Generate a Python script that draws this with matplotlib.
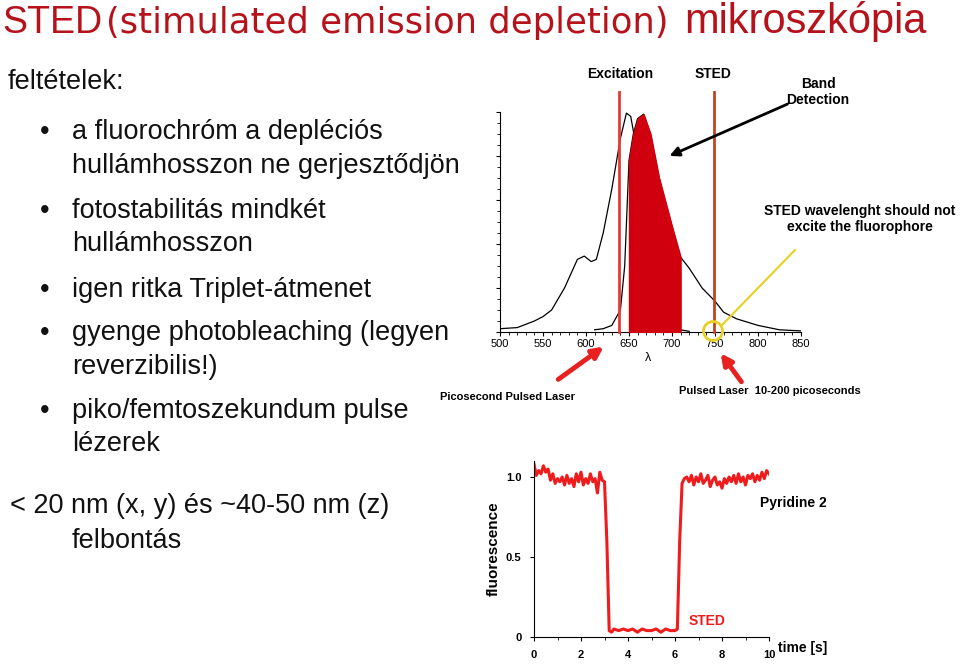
import matplotlib
matplotlib.use("Agg")
import matplotlib.pyplot as plt
import numpy as np
from matplotlib.patches import Circle

plt.rcParams['font.family'] = 'Liberation Sans'

# Spectrum data
abs_wl = [500, 520, 540, 550, 560, 575, 590, 598, 606, 612, 620, 630, 640, 647, 652, 658, 665, 672, 680, 690, 700, 710, 720]
abs_val = [0.015, 0.02, 0.05, 0.07, 0.1, 0.2, 0.33, 0.345, 0.32, 0.33, 0.45, 0.65, 0.88, 0.995, 0.98, 0.85, 0.6, 0.35, 0.17, 0.07, 0.03, 0.01, 0.003]
em_wl = [610, 620, 630, 640, 645, 650, 655, 660, 667, 675, 685, 700, 710, 720, 735, 750, 760, 775, 800, 825, 850]
em_val = [0.01, 0.015, 0.03, 0.1, 0.3, 0.78, 0.9, 0.97, 0.99, 0.9, 0.7, 0.48, 0.34, 0.29, 0.2, 0.14, 0.09, 0.06, 0.03, 0.01, 0.005]
band = (650, 710)
excitation_wl = 638
sted_wl = 749
x_ticks = [500, 550, 600, 650, 700, 750, 800, 850]

# Fluorescence trace (time in s, fluorescence)
t_vals = [0.0, 0.1, 0.2, 0.3, 0.4, 0.5, 0.6, 0.7, 0.8, 0.9, 1.0, 1.1, 1.2, 1.3, 1.4, 1.5, 1.6, 1.7, 1.8, 1.9,
          2.0, 2.1, 2.2, 2.3, 2.4, 2.5, 2.6, 2.7, 2.8, 2.9, 3.0, 3.1, 3.2, 3.3, 3.4, 3.6, 3.8, 4.0, 4.2, 4.4,
          4.6, 4.8, 5.0, 5.2, 5.4, 5.6, 5.8, 6.0, 6.1, 6.2, 6.3, 6.4, 6.5, 6.6, 6.7, 6.8, 6.9, 7.0, 7.1, 7.2,
          7.3, 7.4, 7.5, 7.6, 7.7, 7.8, 7.9, 8.0, 8.1, 8.2, 8.3, 8.4, 8.5, 8.6, 8.7, 8.8, 8.9, 9.0, 9.1, 9.2,
          9.3, 9.4, 9.5, 9.6, 9.7, 9.8, 9.9, 10.0]
f_vals = [1.08, 1.01, 1.04, 1.02, 1.07, 1.03, 1.05, 0.98, 1.02, 0.96, 0.99, 0.97, 1.00, 0.95, 1.01, 0.96, 0.99, 0.94, 1.02, 0.97,
          1.03, 0.95, 0.99, 0.96, 1.02, 0.97, 0.99, 0.90, 1.03, 0.98, 0.97, 0.60, 0.04, 0.03, 0.05, 0.04, 0.05, 0.04, 0.05, 0.03,
          0.05, 0.04, 0.04, 0.05, 0.03, 0.05, 0.04, 0.04, 0.05, 0.60, 0.96, 0.99, 1.00, 0.97, 1.01, 0.95, 1.00, 0.97, 1.02, 0.96,
          0.98, 1.01, 0.94, 0.98, 1.00, 0.95, 0.97, 0.93, 0.99, 0.96, 1.00, 0.97, 1.01, 0.96, 1.02, 0.97, 1.00, 0.95, 1.01, 0.99,
          1.02, 0.97, 1.01, 0.98, 1.03, 0.99, 1.04, 1.02]
y_ticks = [0, 0.5, 1.0]
y_ticklabels = ['0', '0.5', '1.0']
t_ticks = [0, 2, 4, 6, 8, 10]

fig = plt.figure(figsize=(9.6, 6.66), dpi=100)

# Spectrum axes
ax1 = fig.add_axes([500/960, 1-332/666, 301/960, 220/666])
ax1.plot(abs_wl, abs_val, color='black', lw=0.9)
ew = np.array(em_wl); ev = np.array(em_val)
ax1.plot(ew, ev, color='black', lw=0.9)
xs = np.linspace(band[0], band[1], 100)
ax1.fill_between(xs, 0, np.interp(xs, ew, ev), color='#d0000f', zorder=3)
ax1.plot([excitation_wl, excitation_wl], [0, 1.09], color='#e83838', lw=2, clip_on=False, zorder=4)
ax1.plot([sted_wl, sted_wl], [0, 1.09], color='#c04420', lw=2, clip_on=False, zorder=4)
ax1.set_xlim(500, 850); ax1.set_ylim(0, 1.0)
ax1.set_xticks(x_ticks)
ax1.set_xticks(np.arange(500, 851, 10), minor=True)
ax1.set_yticks(np.arange(0, 1.01, 0.2)); ax1.set_yticklabels([])
ax1.set_yticks(np.arange(0, 1.01, 0.05), minor=True)
ax1.tick_params(labelsize=8, length=3, direction='out', pad=2)
ax1.tick_params(which='minor', length=2)
for s in ['top', 'right']:
    ax1.spines[s].set_visible(False)
ax1.patch.set_alpha(0)

# Fluorescence axes
ax2 = fig.add_axes([534/960, 1-637/666, 235/960, 176/666])
ax2.plot(t_vals, f_vals, color='#ee1c1c', lw=2.2)
ax2.set_xlim(0, 10); ax2.set_ylim(0, 1.1)
ax2.set_xticks(t_ticks)
ax2.set_xticks(np.arange(0, 10.01, 1), minor=True)
ax2.set_yticks(y_ticks); ax2.set_yticklabels(y_ticklabels)
ax2.tick_params(labelsize=8, length=3, pad=6)
for lab in ax2.get_xticklabels() + ax2.get_yticklabels():
    lab.set_fontweight('bold')
ax2.set_ylabel('fluorescence', fontsize=11, fontweight='bold', labelpad=4)
for s in ['top', 'right']:
    ax2.spines[s].set_visible(False)

# Overlay in pixel coordinates
ov = fig.add_axes([0, 0, 1, 1])
ov.set_xlim(0, 960); ov.set_ylim(666, 0); ov.axis('off'); ov.patch.set_alpha(0)

red = '#b5121b'
ov.text(2, 33, 'STED', fontsize=27, color=red, va='baseline')
ov.text(106, 33, '(stimulated emission depletion)', fontsize=25.5, color=red, va='baseline',
        family='DejaVu Sans')
ov.text(684, 33, 'mikroszkópia', fontsize=30, color=red, va='baseline')

tc = '#111111'; fs = 19.5
ov.text(8, 89, 'feltételek:', fontsize=fs, color=tc, va='baseline')
lines = [(139, 'a fluorochróm a depléciós', True), (173, 'hullámhosszon ne gerjesztődjön', False),
         (218, 'fotostabilitás mindkét', True), (251, 'hullámhosszon', False),
         (297, 'igen ritka Triplet-átmenet', True),
         (340, 'gyenge photobleaching (legyen', True), (374, 'reverzibilis!)', False),
         (418, 'piko/femtoszekundum pulse', True), (451, 'lézerek', False)]
for y, s, b in lines:
    if b:
        ov.text(40, y, '•', fontsize=fs, color=tc, va='baseline')
    ov.text(72, y, s, fontsize=fs, color=tc, va='baseline')
ov.text(10, 513, '< 20 nm (x, y) és ~40-50 nm (z)', fontsize=fs, color=tc, va='baseline')
ov.text(72, 548, 'felbontás', fontsize=fs, color=tc, va='baseline')

bf = dict(fontweight='bold', fontsize=10, color='black', ha='center', va='center')
ov.text(620, 74, 'Excitation', **bf)
ov.text(713, 74, 'STED', **bf)
ov.text(818, 92, 'Band\nDetection', linespacing=1.15, **bf)
ov.annotate('', xy=(667, 157), xytext=(790, 103),
            arrowprops=dict(arrowstyle='-|>', color='black', lw=2, mutation_scale=14))
ov.text(860, 219, 'STED wavelenght should not\nexcite the fluorophore', linespacing=1.25, **bf)
ov.plot([795, 722], [250, 325], color='#e8d020', lw=1.5)
ov.add_patch(Circle((713, 331), 9.5, fill=False, ec='#e8d020', lw=2))
ov.annotate('', xy=(606, 345), xytext=(556, 381),
            arrowprops=dict(arrowstyle='-|>', color='#e82020', lw=3.5, mutation_scale=16))
ov.annotate('', xy=(719, 351), xytext=(743, 384),
            arrowprops=dict(arrowstyle='-|>', color='#e82020', lw=3.5, mutation_scale=16))
ov.text(508, 397, 'Picosecond Pulsed Laser', **dict(bf, fontsize=8))
ov.text(770, 391, 'Pulsed Laser  10-200 picoseconds', **dict(bf, fontsize=8))
ov.text(648, 358, 'λ', fontsize=9, ha='center', va='center')
ov.text(793, 503, 'Pyridine 2', **bf)
ov.text(707, 621, 'STED', **dict(bf, color='#ee1c1c'))
ov.text(803, 648, 'time [s]', **bf)

fig.savefig('out.png', dpi=100)
